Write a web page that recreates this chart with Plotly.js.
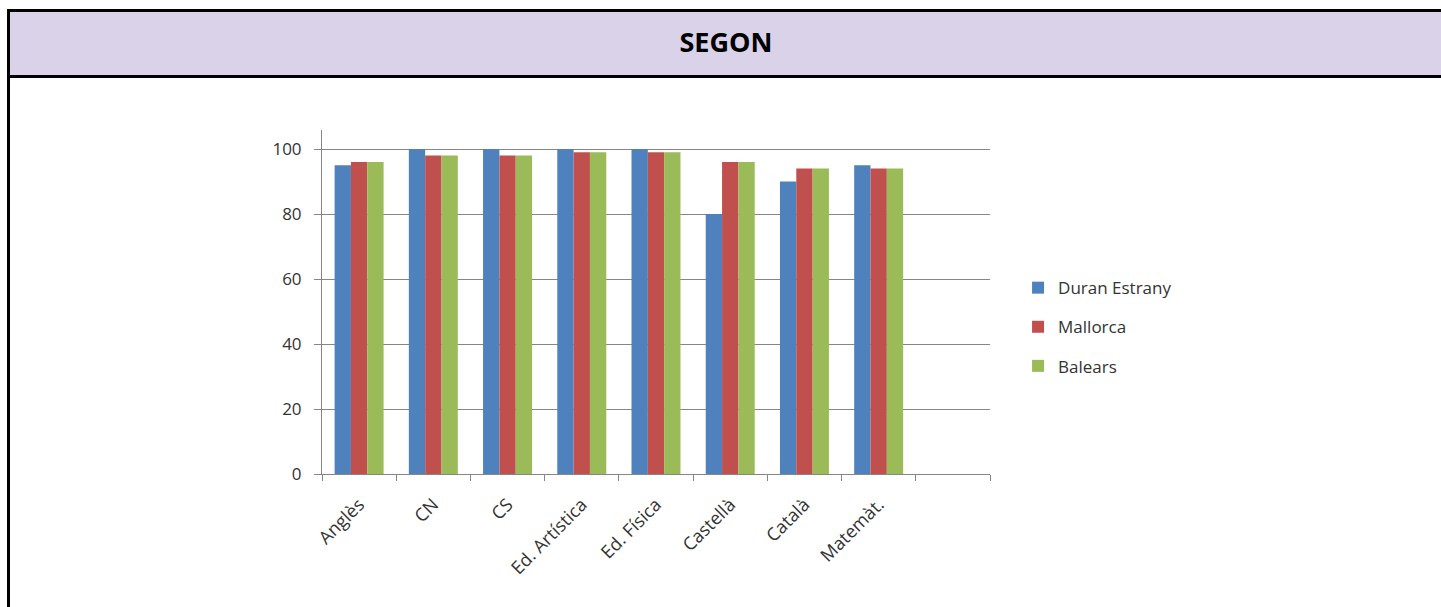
<!DOCTYPE html>
<html>
<head>
<meta charset="utf-8">
<script src="https://cdn.plot.ly/plotly-3.0.1.min.js"></script>
<style>
  html, body { margin: 0; padding: 0; background: #ffffff; width: 1441px; height: 607px; overflow: hidden; }
  #frameLeft { position: absolute; left: 7px; top: 9px; width: 3px; height: 598px; background: #000; }
  #header { position: absolute; left: 7px; top: 9px; width: 1434px; height: 63px;
            border-top: 3px solid #000; border-bottom: 3px solid #000; background: #d9d2e9; box-sizing: content-box; }
  #chart { position: absolute; left: 0; top: 0; width: 1441px; height: 607px; }
</style>
</head>
<body>
<div id="header"></div>
<div id="frameLeft"></div>
<div id="chart"></div>
<script>
const chartTitle = 'SEGON';
const categories = ['Anglès', 'CN', 'CS', 'Ed. Artística', 'Ed. Física', 'Castellà', 'Català', 'Matemàt.'];
const emptySlot = [' '];
const seriesNames = ['Duran Estrany', 'Mallorca', 'Balears'];
const duranEstrany = [95, 100, 100, 100, 100, 80, 90, 95];
const mallorca = [96, 98, 98, 99, 99, 96, 94, 94];
const balears = [96, 98, 98, 99, 99, 96, 94, 94];
const colors = ['#4f81bd', '#c0504d', '#9bbb59'];
const yTicks = [0, 20, 40, 60, 80, 100];

const seriesValues = [duranEstrany, mallorca, balears];
const traces = seriesValues.map((vals, i) => ({
  type: 'bar',
  name: seriesNames[i],
  x: categories,
  y: vals,
  marker: { color: colors[i], line: { width: 0 } },
  legendgroup: 'g' + i,
  hoverinfo: 'x+y+name'
}));
traces.push({
  type: 'scatter', mode: 'markers', x: emptySlot, y: [null],
  showlegend: false, hoverinfo: 'skip', marker: { opacity: 0 }
});

const axisGray = '#868686';
const textColor = '#333';
const layout = {
  width: 1441, height: 607,
  margin: { l: 322, r: 451, t: 130, b: 133, pad: 0 },
  paper_bgcolor: 'rgba(0,0,0,0)',
  plot_bgcolor: 'rgba(0,0,0,0)',
  font: { family: 'Open Sans, sans-serif', size: 16, color: textColor },
  title: {
    text: chartTitle,
    font: { family: 'Open Sans, sans-serif', size: 27, color: '#000', weight: 700 },
    xref: 'container', yref: 'container',
    x: 726 / 1441, xanchor: 'center',
    y: 1 - 43 / 607, yanchor: 'middle'
  },
  barmode: 'group',
  bargap: 0.34,
  bargroupgap: 0,
  showlegend: true,
  legend: {
    x: 1.042, xanchor: 'left',
    y: 0.427, yanchor: 'middle',
    font: { family: 'Open Sans, sans-serif', size: 17, color: textColor },
    tracegroupgap: 14,
    bgcolor: 'rgba(0,0,0,0)'
  },
  xaxis: {
    type: 'category',
    range: [-0.5, 8.5],
    showline: true, linecolor: axisGray, linewidth: 1,
    ticks: 'outside', tickson: 'boundaries', ticklen: 6, tickcolor: axisGray,
    tickangle: -45,
    showgrid: false, zeroline: false,
    ticklabelstandoff: 12,
    tickfont: { family: 'Open Sans, sans-serif', size: 18, color: textColor },
    fixedrange: true
  },
  yaxis: {
    range: [0, 105.85],
    tickvals: yTicks,
    showline: true, linecolor: axisGray, linewidth: 1,
    ticks: 'outside', ticklen: 7, tickcolor: axisGray,
    showgrid: true, gridcolor: axisGray, gridwidth: 1,
    zeroline: false,
    ticklabelstandoff: 9,
    tickfont: { family: 'Open Sans, sans-serif', size: 17, color: textColor },
    fixedrange: true
  }
};

Plotly.newPlot('chart', traces, layout, { displayModeBar: false });
</script>
</body>
</html>
